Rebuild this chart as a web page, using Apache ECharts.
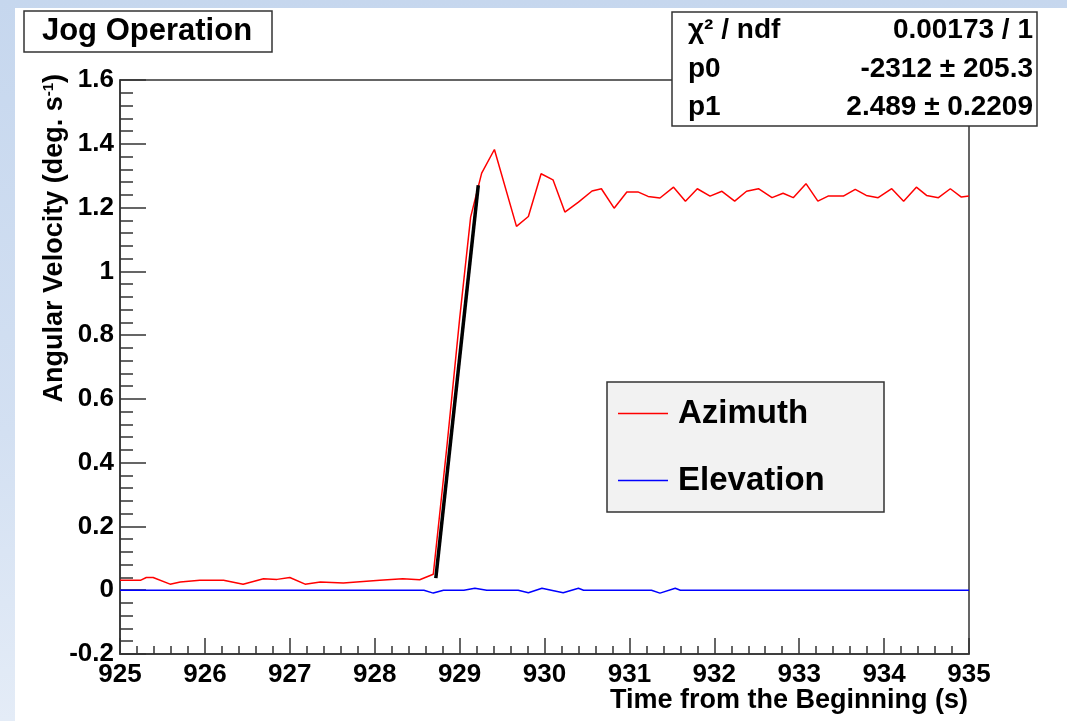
<!DOCTYPE html>
<html>
<head>
<meta charset="utf-8">
<script src="https://cdn.jsdelivr.net/npm/echarts@6/dist/echarts.min.js"></script>
<style>
html,body{margin:0;padding:0;width:1067px;height:721px;overflow:hidden;}
body{background:linear-gradient(180deg,#c6d7ee 0%,#d3e0f2 60%,#e4ecf7 100%);position:relative;}
#paper{position:absolute;left:15px;top:8px;right:0;bottom:0;background:#ffffff;}
#chart{position:absolute;left:0;top:0;width:1067px;height:721px;}
</style>
</head>
<body>
<div id="paper"></div>
<div id="chart"></div>
<script>
// ---- data ----
const azimuthTime = [925.00,925.24,925.31,925.39,925.59,925.71,925.94,926.22,926.45,926.69,926.85,927.00,927.18,927.36,927.63,928.06,928.33,928.53,928.69,928.85,929.00,929.13,929.26,929.41,929.67,929.81,929.96,930.10,930.24,930.40,930.56,930.67,930.82,930.97,931.10,931.22,931.36,931.52,931.66,931.80,931.95,932.09,932.24,932.38,932.52,932.68,932.81,932.93,933.08,933.22,933.34,933.52,933.66,933.79,933.93,934.09,934.23,934.38,934.50,934.64,934.78,934.91,935.00];
const azimuthVel = [0.031,0.031,0.040,0.040,0.019,0.026,0.031,0.031,0.019,0.036,0.034,0.040,0.019,0.026,0.023,0.031,0.036,0.033,0.050,0.45,0.85,1.17,1.308,1.382,1.141,1.172,1.306,1.287,1.186,1.217,1.252,1.259,1.198,1.249,1.249,1.235,1.230,1.264,1.220,1.259,1.236,1.251,1.220,1.251,1.259,1.231,1.245,1.231,1.275,1.220,1.236,1.236,1.257,1.238,1.231,1.259,1.220,1.264,1.238,1.231,1.259,1.233,1.236];
const elevationTime = [925.00,928.58,928.69,928.81,929.05,929.18,929.32,929.69,929.81,929.97,930.08,930.22,930.40,930.46,931.26,931.36,931.54,931.60,935.00];
const elevationVel = [0,0,-0.009,0,0,0.006,0,0,-0.008,0.006,0,-0.008,0.006,0,0,-0.009,0.006,0,0];
const fitTime = [928.72, 929.22];
const fitVel = [0.038, 1.27];
const xTicks = {min: 925, max: 935, interval: 1};
const yTicks = {min: -0.2, max: 1.6, interval: 0.2};
const titleText = 'Jog Operation';
const statsLabels = ['χ² / ndf', 'p0', 'p1'];
const statsValues = ['0.00173 / 1', '-2312 ± 205.3', '2.489 ± 0.2209'];
const seriesNames = ['Azimuth', 'Elevation'];

function zip(a, b) { return a.map((v, i) => [v, b[i]]); }

const FONT = 'Liberation Sans, Arial, Helvetica, sans-serif';
const chart = echarts.init(document.getElementById('chart'), null, {renderer: 'canvas'});

const statsGraphics = [];
const rowY = [30, 69, 107];
statsLabels.forEach((t, i) => {
  statsGraphics.push({type: 'text', x: 688, y: rowY[i], z: 20,
    style: {text: t, font: 'bold 28px ' + FONT, fill: '#000', align: 'left', verticalAlign: 'middle'}});
  statsGraphics.push({type: 'text', x: 1033, y: rowY[i], z: 20,
    style: {text: statsValues[i], font: 'bold 28px ' + FONT, fill: '#000', align: 'right', verticalAlign: 'middle'}});
});

const option = {
  animation: false,
  backgroundColor: 'transparent',
  grid: {left: 120, top: 80, right: 98, bottom: 67, show: true, borderColor: '#333', borderWidth: 1.5, backgroundColor: '#fff'},
  xAxis: {
    type: 'value', min: xTicks.min, max: xTicks.max, interval: xTicks.interval,
    axisLine: {show: true, onZero: false, lineStyle: {color: '#333', width: 1.5}},
    axisTick: {show: true, inside: true, length: 16, lineStyle: {color: '#333', width: 1.5}},
    minorTick: {show: true, splitNumber: 5, length: 8, lineStyle: {color: '#333', width: 1.5}},
    splitLine: {show: false},
    axisLabel: {color: '#000', fontSize: 26, fontWeight: 'bold', fontFamily: FONT, margin: 8, showMinLabel: true, showMaxLabel: true}
  },
  yAxis: {
    type: 'value', min: yTicks.min, max: yTicks.max, interval: yTicks.interval,
    axisLine: {show: true, onZero: false, lineStyle: {color: '#333', width: 1.5}},
    axisTick: {show: true, inside: true, length: 26, lineStyle: {color: '#333', width: 1.5}},
    minorTick: {show: true, splitNumber: 5, length: 13, lineStyle: {color: '#333', width: 1.5}},
    splitLine: {show: false},
    axisLabel: {color: '#000', fontSize: 26, fontWeight: 'bold', fontFamily: FONT, margin: 6, showMinLabel: true, showMaxLabel: true,
      formatter: v => String(Math.round(v * 10) / 10)}
  },
  legend: {
    data: seriesNames,
    orient: 'vertical', left: 618, top: 397, padding: 0,
    icon: 'rect', itemWidth: 50, itemHeight: 1.6, itemGap: 34,
    textStyle: {fontSize: 33, fontWeight: 'bold', fontFamily: FONT, color: '#000', lineHeight: 32, padding: [0, 0, 0, 5]},
    z: 30
  },
  graphic: [
    {type: 'rect', shape: {x: 607, y: 382, width: 277, height: 130}, z: 10,
      style: {fill: '#f2f2f2', stroke: '#333', lineWidth: 1.5}},
    {type: 'rect', shape: {x: 24, y: 11, width: 248, height: 41}, z: 10,
      style: {fill: '#fff', stroke: '#333', lineWidth: 1.5}},
    {type: 'text', x: 147, y: 31, z: 20,
      style: {text: titleText, font: 'bold 31px ' + FONT, fill: '#000', align: 'center', verticalAlign: 'middle'}},
    {type: 'rect', shape: {x: 672, y: 12, width: 365, height: 114}, z: 10,
      style: {fill: '#fff', stroke: '#333', lineWidth: 1.5}},
    ...statsGraphics,
    {type: 'text', x: 968, y: 701, z: 20,
      style: {text: 'Time from the Beginning (s)', font: 'bold 27px ' + FONT, fill: '#000', align: 'right', verticalAlign: 'middle'}},
    {type: 'text', x: 55, y: 74, rotation: Math.PI / 2, z: 20,
      style: {text: 'Angular Velocity (deg. s{sup|-1})', font: 'bold 27px ' + FONT, fill: '#000', align: 'right', verticalAlign: 'middle',
        rich: {sup: {fontSize: 15, fontWeight: 'bold', fontFamily: FONT, verticalAlign: 'top', padding: [0, 0, 12, 0]}}}}
  ],
  series: [
    {name: seriesNames[0], type: 'line', data: zip(azimuthTime, azimuthVel), showSymbol: false, symbol: 'none',
      lineStyle: {color: '#ff0000', width: 1.5}, itemStyle: {color: '#ff0000'}, z: 3},
    {name: seriesNames[1], type: 'line', data: zip(elevationTime, elevationVel), showSymbol: false, symbol: 'none',
      lineStyle: {color: '#0000ff', width: 1.5}, itemStyle: {color: '#0000ff'}, z: 3},
    {name: 'fit', type: 'line', data: zip(fitTime, fitVel), showSymbol: false, symbol: 'none',
      lineStyle: {color: '#000', width: 3.5}, itemStyle: {color: '#000'}, z: 4}
  ]
};
chart.setOption(option);
</script>
</body>
</html>
